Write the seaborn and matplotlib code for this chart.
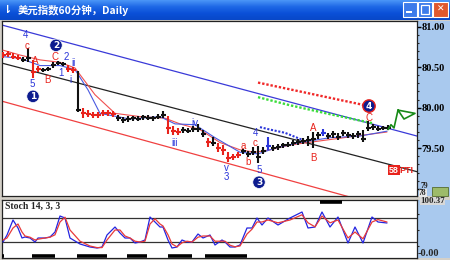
import numpy as np
import pandas as pd
import matplotlib
matplotlib.use("Agg")
import matplotlib.pyplot as plt
import seaborn as sns
from matplotlib.patches import Rectangle, FancyBboxPatch
from matplotlib.colors import LinearSegmentedColormap

sns.set_theme(style="white")
plt.rcParams['font.family'] = ['Noto Sans CJK SC', 'DejaVu Sans']

# ------------------------------------------------------------------ data
title = "美元指数60分钟，Daily"
stoch_title = "Stoch 14, 3, 3"

close = [80.65, 80.66, 80.63, 80.61, 80.59, 80.61,
         80.44, 80.48, 80.47, 80.48, 80.53, 80.55, 80.54, 80.48, 80.47,
         79.97, 79.93, 79.92, 79.91, 79.91, 79.93, 79.93, 79.92,
         79.87, 79.85, 79.86, 79.87, 79.86, 79.89, 79.87, 79.87, 79.89, 79.91,
         79.75, 79.71, 79.70, 79.73, 79.71, 79.74, 79.74, 79.68,
         79.58, 79.57, 79.50, 79.48, 79.38, 79.39, 79.42,
         79.47, 79.43, 79.45, 79.39, 79.47, 79.53, 79.50, 79.52, 79.54, 79.54,
         79.57, 79.58, 79.59, 79.60, 79.61,
         79.66, 79.69, 79.65, 79.68, 79.64, 79.69, 79.66, 79.65, 79.68, 79.61,
         79.75, 79.76, 79.74, 79.75, 79.75]
high = [80.69, 80.70, 80.68, 80.65, 80.63, 80.74,
        80.59, 80.52, 80.49, 80.50, 80.56, 80.58, 80.56, 80.53, 80.50,
        80.45, 80.00, 79.97, 79.95, 79.95, 79.97, 79.97, 79.96,
        79.91, 79.89, 79.90, 79.90, 79.90, 79.91, 79.91, 79.90, 79.92, 79.96,
        79.90, 79.77, 79.75, 79.76, 79.75, 79.77, 79.80, 79.73,
        79.63, 79.64, 79.57, 79.54, 79.45, 79.43, 79.45,
        79.49, 79.47, 79.52, 79.53, 79.52, 79.64, 79.54, 79.55, 79.57, 79.58,
        79.60, 79.61, 79.63, 79.65, 79.70,
        79.70, 79.74, 79.69, 79.71, 79.69, 79.73, 79.70, 79.69, 79.71, 79.73,
        79.84, 79.80, 79.77, 79.77, 79.79]
low = [80.61, 80.63, 80.60, 80.59, 80.56, 80.56,
       80.37, 80.44, 80.44, 80.45, 80.49, 80.53, 80.52, 80.44, 80.43,
       79.95, 79.87, 79.89, 79.87, 79.87, 79.90, 79.90, 79.89,
       79.84, 79.81, 79.82, 79.84, 79.84, 79.85, 79.85, 79.84, 79.86, 79.87,
       79.68, 79.66, 79.66, 79.69, 79.69, 79.70, 79.70, 79.64,
       79.52, 79.53, 79.45, 79.42, 79.33, 79.35, 79.38,
       79.43, 79.39, 79.42, 79.32, 79.43, 79.48, 79.47, 79.48, 79.50, 79.52,
       79.53, 79.54, 79.55, 79.53, 79.50,
       79.61, 79.65, 79.61, 79.63, 79.60, 79.65, 79.63, 79.61, 79.63, 79.58,
       79.71, 79.73, 79.71, 79.73, 79.73]
bar_kind = list("rrrr" "kk" "rr" "kkkkk" "rr" "k" "rrrrrrr" "kkkkkkkkkk" "rrr"
                "kkkkk" "r" "k" "rrrrr" "kkkkk" "b" "kkkkkkkkkk" "b" "kkkkkkkkkkkkk")

ma_red_x = [0, 3.4, 7.4, 11.4, 14.4, 18.4, 22.4, 27.4, 32.4, 35.4, 39.4, 43.4,
            47.4, 50.4, 53.4, 57.4, 63.4, 69.4, 76.8]
ma_red_y = [80.71, 80.65, 80.59, 80.56, 80.49, 80.16, 79.93, 79.89, 79.87, 79.80,
            79.73, 79.57, 79.48, 79.45, 79.48, 79.54, 79.59, 79.64, 79.70]
ma_blue_x = [0, 3.4, 7.4, 11.4, 14.4, 17, 19.4, 25.4, 31.4, 34.4, 38.4, 42.4,
             47.4, 51, 54.4, 59.4, 65.4, 71.4, 76.8]
ma_blue_y = [80.63, 80.61, 80.52, 80.52, 80.47, 80.22, 79.93, 79.86, 79.89, 79.80,
             79.79, 79.63, 79.45, 79.43, 79.50, 79.57, 79.63, 79.65, 79.71]

chan_x = [-0.2, 82.8]
blue_chan_y = [81.02, 79.65]
black_chan_y = [80.55, 79.21]
red_chan_x = [-0.2, 70.4]
red_chan_y = [80.08, 78.88]
red_dot_x = [51, 72.4]
red_dot_y = [80.31, 80.03]
green_dot_x = [51, 57.4, 65.4, 73.8]
green_dot_y = [80.13, 80.03, 79.92, 79.81]
blue_dot_x = [51.4, 53.4, 56.4, 60]
blue_dot_y = [79.76, 79.73, 79.69, 79.60]
proj_x = [77, 77.6, 78.2, 79, 82.4, 80.2, 79]
proj_y = [79.73, 79.79, 79.75, 79.97, 79.93, 79.86, 79.97]

wave_text = ['4', 'c', '5', 'A', 'B', 'C', '2', '1', 'ii', 'i', 'iii', 'iv', 'v', '3',
             'a', 'b', 'c', '4', '5', 'A', 'B', 'C']
wave_x = [4.4, 4.8, 5.8, 6.4, 8.8, 10.4, 12.6, 11.6, 14, 13.4, 34.4, 38.4, 44.6, 44.6,
          48, 49, 50.4, 50.4, 51.2, 62, 62, 73.2]
wave_y = [80.90, 80.76, 80.29, 80.58, 80.34, 80.63, 80.63, 80.43, 80.55, 80.34, 79.57,
          79.81, 79.26, 79.14, 79.53, 79.33, 79.57, 79.69, 79.23, 79.75, 79.38, 79.87]
wave_kind = ['b', 'r', 'b', 'r', 'r', 'r', 'b', 'b', 'b', 'b', 'b', 'b', 'b', 'b',
             'r', 'r', 'r', 'b', 'b', 'r', 'r', 'r']
circle_text = ['1', '2', '3', '4']
circle_x = [6, 10.6, 51.2, 73.2]
circle_y = [80.14, 80.77, 79.08, 80.02]

price_ticks = [79.0, 79.5, 80.0, 80.5, 81.0]
price_labels = ['', '79.50', '80.00', '80.50', '81.00']

stoch_x = [0, 0.8, 2, 3, 3.8, 4.4, 5.4, 6.4, 7, 8.4,
           9.4, 10.4, 11.4, 12.4, 13.4, 15.4, 17.4, 18.8, 19.8, 20.8,
           22.4, 23.4, 24.4, 25.4, 26.4, 27.4, 28.4, 29.4, 30.4, 31.4,
           32, 33, 33.8, 34.8, 35.8, 36.8, 37.8, 39, 40, 41.4,
           42.4, 43.8, 44.4, 45.4, 46.4, 47.4, 48.8, 49.8, 50.8, 51.8,
           53, 55, 57.4, 59.8, 61, 62.4, 63.8, 65.4, 67, 69,
           70.4, 72, 73.8, 75, 76.8]
stoch_k = [20, 37.5, 75, 55, 30, 32.5, 30, 20, 30, 30,
           32.5, 45, 85, 80, 30, 15, 7.5, 5, 7.5, 37.5,
           57.5, 42.5, 30, 30, 17.5, 20, 25, 82.5, 70, 57.5,
           57.5, 25, 5, 7.5, 25, 20, 20, 40, 30, 37.5,
           12.5, 25, 20, 7.5, 7.5, 12.5, 55, 55, 80, 62.5,
           80, 62.5, 80, 95, 55, 57.5, 95, 57.5, 82.5, 17.5,
           57.5, 17.5, 82.5, 70, 67.5]
stoch_d = [25, 30, 55, 65, 45, 35, 32, 25, 27, 30,
           32, 38, 70, 82, 50, 22, 10, 6, 6, 25,
           50, 50, 35, 30, 22, 20, 22, 65, 78, 65,
           60, 38, 15, 8, 18, 22, 20, 32, 35, 35,
           22, 22, 22, 12, 8, 10, 40, 52, 70, 70,
           75, 68, 75, 88, 68, 58, 85, 68, 75, 30,
           45, 28, 70, 76, 70]
stoch_levels = [80, 20]
session_start = [-0.2, 5.8, 14.8, 24.8, 33.0, 40.4]
session_end = [0.2, 10.4, 20.8, 28.8, 37.8, 48.8]
session2_start = [63.4]
session2_end = [67.8]

# ------------------------------------------------------------------ styling
W, H = 450, 260
RED, BLUE, BLACK = '#E8231C', '#2B36D9', '#111111'
NAVY = '#0D1C8F'
kind_col = {'r': RED, 'k': BLACK, 'b': BLUE}


def box(x0, y0, x1, y1):
    return [x0 / W, 1 - y1 / H, (x1 - x0) / W, (y1 - y0) / H]


def fx(px):
    return px / W


def fy(py):
    return 1 - py / H


fig = plt.figure(figsize=(4.5, 2.6), dpi=100)
fig.patch.set_facecolor('#D4D0C8')

# title bar
tb = fig.add_axes(box(0, 0, 450, 20))
cm = LinearSegmentedColormap.from_list('xp', ['#4A95F7', '#1E68E6', '#0A50D8', '#0848C8'])
tb.imshow(np.linspace(0, 1, 40).reshape(-1, 1), cmap=cm, aspect='auto', extent=(0, 1, 0, 1))
tb.set_axis_off()
fig.text(fx(18), fy(10.5), title, color='white', fontsize=7.5, fontweight='bold',
         va='center', ha='left')
fig.text(fx(8), fy(10), '⇂', color='white', fontsize=8, fontweight='bold',
         va='center', ha='center', family='DejaVu Sans')
for x0, x1, fc in [(403, 417, '#3C7BEA'), (418, 432, '#3C7BEA'), (433, 448, '#E0582E')]:
    fig.add_artist(FancyBboxPatch((fx(x0), fy(17)), fx(x1) - fx(x0), fy(2) - fy(17),
                                  boxstyle='square,pad=0', transform=fig.transFigure,
                                  fc=fc, ec='white', lw=0.8, zorder=5))
fig.add_artist(Rectangle((fx(406), fy(13)), fx(6), fy(11) - fy(13),
                         transform=fig.transFigure, fc='white', ec='none', zorder=6))
fig.add_artist(Rectangle((fx(421), fy(14)), fx(8), fy(5) - fy(14), transform=fig.transFigure,
                         fc='none', ec='white', lw=0.9, zorder=6))
fig.text(fx(440.5), fy(9.5), '✕', color='white', fontsize=6.5, fontweight='bold',
         va='center', ha='center', family='DejaVu Sans', zorder=7)

# right axis panels
for y0, y1 in [(21, 196), (200, 258)]:
    fig.add_artist(Rectangle((fx(417), fy(y1)), fx(450) - fx(417), fy(y0) - fy(y1),
                             transform=fig.transFigure, fc='#A9C9EE', ec='none', zorder=-1))

# ---------------- main price axes
ax = fig.add_axes(box(2, 21, 417, 196))
ax.set_facecolor('white')
ax.set_xlim(-0.2, 82.8)
ax.set_ylim(78.91, 81.07)

ax.plot(chan_x, blue_chan_y, color='#3A3AD8', lw=0.9, zorder=2)
ax.plot(chan_x, black_chan_y, color='#222222', lw=0.9, zorder=2)
ax.plot(red_chan_x, red_chan_y, color='#F04040', lw=0.9, zorder=2)
ax.plot(red_dot_x, red_dot_y, color='#F02828', lw=1.7, ls=(0, (1, 0.8)), zorder=2)
ax.plot(green_dot_x, green_dot_y, color='#3BDC3B', lw=1.7, ls=(0, (1, 0.8)), zorder=2)
ax.plot(blue_dot_x, blue_dot_y, color='#2B36D9', lw=1.5, ls=(0, (1, 0.8)), zorder=2)

sns.lineplot(x=ma_red_x, y=ma_red_y, ax=ax, color='#F05050', lw=0.8, zorder=3)
sns.lineplot(x=ma_blue_x, y=ma_blue_y, ax=ax, color='#4A5AE0', lw=0.8, zorder=3)

xb = np.arange(len(close))
cols = [kind_col[k] for k in bar_kind]
ax.vlines(xb, low, high, colors=cols, lw=1.5, zorder=5)
ax.hlines(close, xb - 0.5, xb + 0.5, colors=cols, lw=1.5, zorder=5)

ax.plot(proj_x, proj_y, color='#178A17', lw=1.2, zorder=6)

for t, x, y, k in zip(wave_text, wave_x, wave_y, wave_kind):
    ax.text(x, y, t, color=kind_col[k], fontsize=7, ha='center', va='center',
            family='Liberation Sans', zorder=8)
ax.scatter(circle_x, circle_y, s=80, color=NAVY, zorder=8,
           edgecolors=['white', 'white', 'white', RED], linewidths=[0.5, 0.5, 0.5, 1.0])
for t, x, y in zip(circle_text, circle_x, circle_y):
    ax.text(x, y, t, color='white', fontsize=6.5, fontweight='bold', ha='center',
            va='center', family='DejaVu Sans', zorder=9)
ax.text(78.2, 79.23, '58', color='white', fontsize=6.5, fontweight='bold', ha='center',
        va='center', family='Liberation Sans', zorder=9,
        bbox=dict(fc=RED, ec='none', pad=0.6))
ax.text(80.6, 79.23, 'PTI', color=RED, fontsize=6.5, fontweight='bold', ha='center',
        va='center', family='Liberation Sans', zorder=9)

ax.set_xticks([])
ax.yaxis.tick_right()
ax.set_yticks(price_ticks)
ax.set_yticklabels(price_labels, family='Liberation Serif', fontweight='bold', fontsize=7.5)
ax.set_yticks(np.arange(79.0, 81.01, 0.1), minor=True)
ax.tick_params(axis='y', which='major', direction='out', length=3, width=1, pad=0.5,
               colors='black', right=True)
ax.tick_params(axis='y', which='minor', direction='out', length=1.5, width=0.8, right=True)
for s in ax.spines.values():
    s.set_color('#222222')
    s.set_linewidth(0.9)

# partly hidden 79 label, 78 box and small icon at bottom of price scale
fig.text(fx(421), fy(186.5), '79', fontsize=5.5, fontweight='bold', family='Liberation Serif',
         va='center', ha='left', zorder=6)
fig.add_artist(Rectangle((fx(432), fy(196)), fx(16), fy(187) - fy(196),
                         transform=fig.transFigure, fc='#9DBB6A', ec='#556B2F', lw=0.6, zorder=5))
fig.text(fx(419), fy(193), '78', fontsize=5.5, fontweight='bold', family='Liberation Serif',
         va='center', ha='left', zorder=6, bbox=dict(fc='#E8E8E8', ec='none', pad=0.2))

# ---------------- stochastic axes
ax2 = fig.add_axes(box(2, 200, 417, 258))
ax2.set_facecolor('white')
ax2.set_xlim(-0.2, 82.8)
ax2.set_ylim(-20, 125)
for lv in stoch_levels:
    ax2.axhline(lv, color='#333333', lw=0.9, zorder=1)
sns.lineplot(x=stoch_x, y=stoch_k, ax=ax2, color='#2424E0', lw=0.9, zorder=3)
sns.lineplot(x=stoch_x, y=stoch_d, ax=ax2, color='#E83A3A', lw=0.9, zorder=4)
ax2.hlines([-15] * len(session_start), session_start, session_end, color='black', lw=2.6,
           zorder=5)
ax2.hlines([121] * len(session2_start), session2_start, session2_end, color='black', lw=2.6,
           zorder=5)
ax2.set_xticks([])
ax2.yaxis.tick_right()
ax2.set_yticks([])
ax2.set_yticks([10, 50, 90], minor=True)
ax2.tick_params(axis='y', which='minor', direction='out', length=1.5, width=0.8, right=True)
for s in ax2.spines.values():
    s.set_color('#222222')
    s.set_linewidth(0.9)
ax2.text(0.008, 0.90, stoch_title, transform=ax2.transAxes, fontsize=7, fontweight='bold',
         family='Liberation Serif', ha='left', va='center')
fig.text(fx(420), fy(201), '100.37', fontsize=6.5, fontweight='bold', family='Liberation Serif',
         va='center', ha='left', bbox=dict(fc='#D8D8D8', ec='none', pad=0.2))
fig.text(fx(418), fy(254), '-0.00', fontsize=7.5, fontweight='bold', family='Liberation Serif',
         va='center', ha='left')

fig.savefig('out.png', dpi=100, facecolor=fig.get_facecolor())
